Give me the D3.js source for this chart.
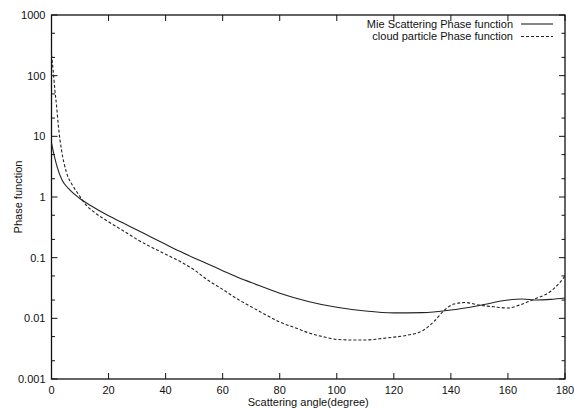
<!DOCTYPE html>
<html>
<head>
<meta charset="utf-8">
<script src="https://cdn.jsdelivr.net/npm/d3@7.9.0/dist/d3.min.js"></script>
<style>
  html, body { margin: 0; padding: 0; background: #fff; }
  svg text { font-family: "Liberation Sans", Arial, sans-serif; font-size: 11px; fill: #111; }
</style>
</head>
<body>
<svg id="chart" width="574" height="409"></svg>
<script>
// ===== data =====
const mieAngle = [0, 0.8, 2, 3.7, 6.5, 9.6, 14, 20, 25, 30, 35, 40, 45, 50, 55, 60, 65, 70,
  80, 90, 100, 110, 120, 130, 140, 150, 160, 165, 170, 175, 180];
const mieValue = [7.8, 5.2, 3.1, 1.9, 1.3, 0.97, 0.71, 0.49, 0.375, 0.285, 0.218, 0.166, 0.127,
  0.099, 0.078, 0.061, 0.048, 0.039, 0.026, 0.019, 0.0152, 0.0132, 0.0123, 0.0124, 0.0137,
  0.0163, 0.02, 0.0208, 0.02, 0.0205, 0.0216];

const cloudAngle = [0, 0.6, 1.2, 1.8, 2.4, 3.5, 5.3, 7.6, 9.8, 12, 15, 20, 25, 30, 35, 40, 45,
  50, 55, 60, 65, 70, 75, 80, 85, 90, 95, 100, 105, 110, 115, 120, 125, 130, 134, 138, 141,
  145, 150, 155, 160, 164, 169, 175, 178, 180];
const cloudValue = [220, 120, 57, 31, 15, 6, 2.5, 1.5, 1.05, 0.75, 0.56, 0.39, 0.28, 0.2, 0.149,
  0.114, 0.087, 0.063, 0.042, 0.03, 0.021, 0.0155, 0.0115, 0.0087, 0.0071, 0.0058, 0.005,
  0.0045, 0.0044, 0.0044, 0.0046, 0.0049, 0.0053, 0.0062, 0.0088, 0.014, 0.0172, 0.0182,
  0.0165, 0.0155, 0.0148, 0.0165, 0.0205, 0.028, 0.038, 0.05];

const xTicks = [0, 20, 40, 60, 80, 100, 120, 140, 160, 180];
const yTicks = [0.001, 0.01, 0.1, 1, 10, 100, 1000];
const yTickLabels = ["0.001", "0.01", "0.1", "1", "10", "100", "1000"];
const seriesNames = ["Mie Scattering Phase function", "cloud particle Phase function"];

// ===== layout =====
const svg = d3.select("#chart");
const plotL = 51.5, plotR = 565, plotT = 15, plotB = 379;

const x = d3.scaleLinear().domain([0, 180]).range([plotL, plotR]);
const y = d3.scaleLog().domain([0.001, 1000]).range([plotB, plotT]);

// minor ticks at 2 and 5 of each decade
const yMinor = [];
yTicks.slice(0, -1).forEach(d => { yMinor.push(d * 2, d * 5); });

const g = svg.append("g");

// frame
g.append("rect")
  .attr("x", plotL).attr("y", plotT)
  .attr("width", plotR - plotL).attr("height", plotB - plotT)
  .attr("fill", "none").attr("stroke", "#111").attr("stroke-width", 1.3);

// inward ticks on all four sides
const tickMajor = 6, tickMinor = 3.5;
function tick(x1, y1, x2, y2) {
  g.append("line").attr("x1", x1).attr("y1", y1).attr("x2", x2).attr("y2", y2)
    .attr("stroke", "#111").attr("stroke-width", 1);
}
xTicks.forEach(t => {
  tick(x(t), plotB, x(t), plotB - tickMajor);
  tick(x(t), plotT, x(t), plotT + tickMajor);
});
yTicks.forEach(t => {
  tick(plotL, y(t), plotL + tickMajor, y(t));
  tick(plotR, y(t), plotR - tickMajor, y(t));
});
yMinor.forEach(t => {
  tick(plotL, y(t), plotL + tickMinor, y(t));
  tick(plotR, y(t), plotR - tickMinor, y(t));
});

// tick labels
g.selectAll(".xl").data(xTicks).join("text")
  .attr("x", d => x(d)).attr("y", plotB + 15)
  .attr("text-anchor", "middle").text(d => d);
g.selectAll(".yl").data(yTicks).join("text")
  .attr("x", plotL - 6).attr("y", d => y(d)).attr("dy", "0.35em")
  .attr("text-anchor", "end").text((d, i) => yTickLabels[i]);

// axis titles
g.append("text").attr("x", (plotL + plotR) / 2).attr("y", plotB + 27)
  .attr("text-anchor", "middle").text("Scattering angle(degree)");
g.append("text").attr("transform", `translate(22,${(plotT + plotB) / 2}) rotate(-90)`)
  .attr("text-anchor", "middle").text("Phase function");

// curves
const line = d3.line()
  .x(d => x(d[0])).y(d => y(d[1]))
  .curve(d3.curveMonotoneX);

const mie = mieAngle.map((a, i) => [a, mieValue[i]]);
const cloud = cloudAngle.map((a, i) => [a, cloudValue[i]]);

g.append("path").attr("d", line(mie))
  .attr("fill", "none").attr("stroke", "#222").attr("stroke-width", 1.1);
g.append("path").attr("d", line(cloud))
  .attr("fill", "none").attr("stroke", "#222").attr("stroke-width", 1.1)
  .attr("stroke-dasharray", "3,2");

// legend
const legend = g.selectAll(".leg").data(seriesNames).join("g")
  .attr("transform", (d, i) => `translate(0,${24 + i * 12.5})`);
legend.append("text").attr("x", 513).attr("dy", "0.35em")
  .attr("text-anchor", "end").text(d => d);
legend.append("line").attr("x1", 521).attr("x2", 553)
  .attr("stroke", "#222").attr("stroke-width", 1.1)
  .attr("stroke-dasharray", (d, i) => i === 0 ? null : "3,2");
</script>
</body>
</html>
